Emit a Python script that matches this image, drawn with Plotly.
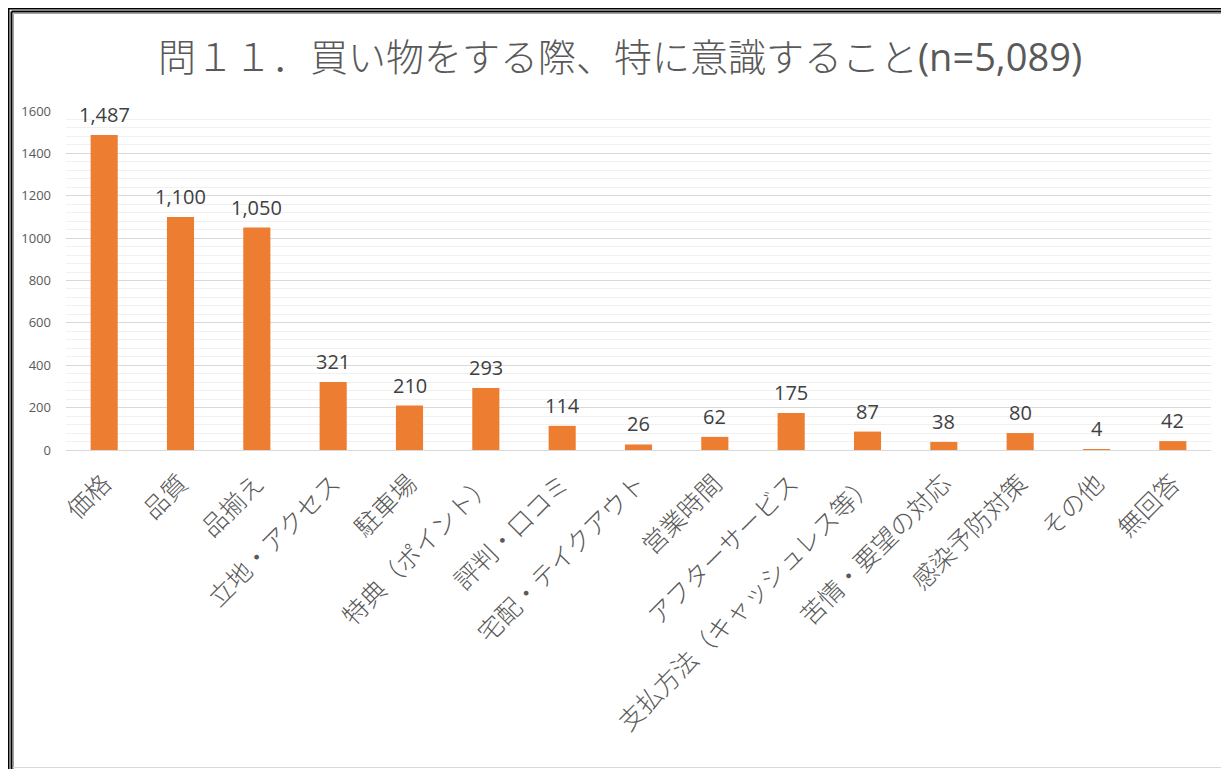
import plotly.graph_objects as go

categories = ["価格", "品質", "品揃え", "立地・アクセス", "駐車場", "特典（ポイント）",
              "評判・口コミ", "宅配・テイクアウト", "営業時間", "アフターサービス",
              "支払方法（キャッシュレス等）", "苦情・要望の対応", "感染予防対策", "その他", "無回答"]
values = [1487, 1100, 1050, 321, 210, 293, 114, 26, 62, 175, 87, 38, 80, 4, 42]
y_ticks = [0, 200, 400, 600, 800, 1000, 1200, 1400, 1600]
title_main = "問１１．買い物をする際、特に意識すること"
title_n = "(n=5,089)"

OFF = 8  # page body margin
W, H = 1229 - OFF, 769 - OFF
L, R, T, B = 66 - OFF, 1211 - OFF, 111 - OFF, 450 - OFF

FONT = "Open Sans, Noto Sans CJK JP, sans-serif"

fig = go.Figure(go.Bar(
    x=categories, y=values,
    marker=dict(color="#ED7D31", line=dict(width=0)),
    cliponaxis=False,
    hoverinfo="x+y",
))

for c, v in zip(categories, values):
    fig.add_annotation(x=c, y=v, text=f"{v:,}", showarrow=False,
                       xanchor="center", yanchor="bottom", yshift=5,
                       font=dict(size=20, color="#404040", family=FONT))

def px(x):
    return (x - OFF - L) / (R - L)

def py(y):
    return (B - (y - OFF)) / (B - T)

shapes = []
def line(x0, y0, x1, y1, color, width):
    shapes.append(dict(type="line", xref="paper", yref="paper",
                       x0=px(x0), y0=py(y0), x1=px(x1), y1=py(y1),
                       line=dict(color=color, width=width), layer="above"))

# frame (page coordinates)
line(8, 8.5, 1229, 8.5, "#000000", 2)
line(8.5, 8, 8.5, 769, "#000000", 2)
line(11.5, 11.5, 1229, 11.5, "#000000", 2)
line(11.5, 11.5, 11.5, 769, "#000000", 2)
line(13.5, 13.5, 13.5, 769, "#a0a0a0", 1)
line(13.5, 13.5, 1229, 13.5, "#a0a0a0", 1)
line(1227.5, 13, 1227.5, 767.5, "#d9d9d9", 1)
line(13, 767.5, 1227.5, 767.5, "#d9d9d9", 1)

fig.update_layout(
    width=W, height=H,
    margin=dict(l=L, r=W - R, t=T, b=H - B),
    paper_bgcolor="white", plot_bgcolor="white",
    bargap=0.645,
    showlegend=False,
    font=dict(family=FONT, color="#595959"),
    title=dict(text=title_main + '<span style="font-weight:400">' + title_n + "</span>",
               x=(620 - OFF) / W, xref="container", xanchor="center",
               y=1 - (58 - OFF) / H, yref="container", yanchor="middle",
               font=dict(size=38, color="#595959", family=FONT, weight=300)),
    shapes=shapes,
)
fig.update_xaxes(tickangle=-45, tickfont=dict(size=25, color="#595959", family=FONT, weight=300),
                 showline=True, linecolor="#d9d9d9", linewidth=1,
                 showgrid=False, ticks="", automargin=False, ticklabelstandoff=8)
fig.update_yaxes(range=[0, 1600], tickvals=y_ticks,
                 tickfont=dict(size=13, color="#595959", family=FONT),
                 showgrid=True, gridcolor="#d9d9d9", gridwidth=1,
                 minor=dict(dtick=40, showgrid=True, gridcolor="#f0f0f0", gridwidth=1),
                 zeroline=False, showline=False, ticklabelstandoff=14, automargin=False)

fig.write_html("out.html")
